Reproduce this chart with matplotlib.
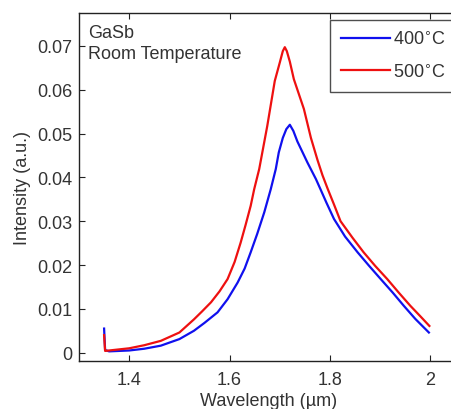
import matplotlib
matplotlib.use("Agg")
import matplotlib.pyplot as plt

plt.rcParams["font.family"] = ["Liberation Sans", "DejaVu Sans"]

# Photoluminescence spectra of GaSb at room temperature
wl_400 = [1.350, 1.352, 1.36, 1.40, 1.43, 1.463, 1.50, 1.529, 1.55, 1.576,
          1.596, 1.616, 1.630, 1.642, 1.655, 1.669, 1.682, 1.692, 1.698, 1.706,
          1.713, 1.720, 1.727, 1.735, 1.745, 1.755, 1.772, 1.781, 1.793, 1.808,
          1.83, 1.855, 1.878, 1.901, 1.925, 1.947, 1.97, 1.997]
int_400 = [0.0055, 0.0006, 0.0003, 0.0005, 0.0009, 0.0016, 0.0031, 0.0050, 0.0068, 0.0092,
           0.0122, 0.0160, 0.0192, 0.0229, 0.0271, 0.0320, 0.0373, 0.0419, 0.0457, 0.0490,
           0.0510, 0.0520, 0.0506, 0.0482, 0.0458, 0.0434, 0.0396, 0.0373, 0.0342, 0.0305,
           0.0265, 0.0229, 0.0198, 0.0168, 0.0137, 0.0107, 0.0077, 0.0046]

wl_500 = [1.350, 1.352, 1.36, 1.40, 1.43, 1.463, 1.50, 1.529, 1.545, 1.563,
          1.580, 1.596, 1.610, 1.622, 1.632, 1.642, 1.649, 1.659, 1.675, 1.690,
          1.700, 1.706, 1.710, 1.714, 1.720, 1.728, 1.748, 1.762, 1.775, 1.785,
          1.795, 1.808, 1.821, 1.845, 1.867, 1.890, 1.914, 1.937, 1.960, 1.980, 1.998]
int_500 = [0.0040, 0.0004, 0.0005, 0.0010, 0.0017, 0.0027, 0.0046, 0.0076, 0.0094, 0.0115,
           0.0140, 0.0168, 0.0207, 0.0251, 0.0292, 0.0335, 0.0373, 0.0419, 0.0517, 0.0620,
           0.0662, 0.0688, 0.0697, 0.0688, 0.0664, 0.0624, 0.0556, 0.0490, 0.0440, 0.0405,
           0.0375, 0.0338, 0.0300, 0.0262, 0.0229, 0.0198, 0.0168, 0.0137, 0.0107, 0.0083, 0.0061]

labels = ["400$^{\\circ}$C", "500$^{\\circ}$C"]
colors = ["#1010ee", "#ee1010"]

xticks = [1.4, 1.6, 1.8, 2.0]
xticklabels = ["1.4", "1.6", "1.8", "2"]
yticks = [0, 0.01, 0.02, 0.03, 0.04, 0.05, 0.06, 0.07]
yticklabels = ["0", "0.01", "0.02", "0.03", "0.04", "0.05", "0.06", "0.07"]

W, H = 452, 410
FS = 13
fig = plt.figure(figsize=(W / 100, H / 100), dpi=100)
ax = fig.add_axes([79 / W, (H - 362) / H, (458 - 79) / W, (362 - 14) / H])

txt = "#333333"
ax.plot(wl_400, int_400, color=colors[0], lw=1.6, label=labels[0])
ax.plot(wl_500, int_500, color=colors[1], lw=1.6, label=labels[1])

ax.set_xlim(1.3, 2.055)
ax.set_ylim(-0.0019, 0.0775)
ax.set_xticks(xticks)
ax.set_xticklabels(xticklabels)
ax.set_yticks(yticks)
ax.set_yticklabels(yticklabels)

for s in ax.spines.values():
    s.set_color("#222222")
    s.set_linewidth(1.0)
ax.spines["right"].set_visible(False)
ax.tick_params(direction="in", length=4, width=0.8, color="#222222",
               labelsize=FS, labelcolor=txt, top=True, right=False, pad=5)
ax.tick_params(axis="x", pad=7)

ax.set_xlabel("Wavelength (µm)", fontsize=FS, color=txt, labelpad=3)
ax.set_ylabel("Intensity (a.u.)", fontsize=FS, color=txt, labelpad=4)

fig.text(88 / W, 1 - 25 / H, "GaSb", fontsize=FS, color=txt, va="top")
fig.text(88 / W, 1 - 46 / H, "Room Temperature", fontsize=FS, color=txt, va="top")

leg = ax.legend(loc="upper left", bbox_to_anchor=(330 / W, 1 - 21 / H),
                bbox_transform=fig.transFigure, fontsize=FS, frameon=True,
                fancybox=False, handlelength=2.7, handletextpad=0.2,
                labelspacing=0.85, borderpad=0.6, borderaxespad=0)
leg.get_frame().set_edgecolor("#222222")
leg.get_frame().set_linewidth(1.0)
for t in leg.get_texts():
    t.set_color(txt)

fig.savefig("out.png", dpi=100)
